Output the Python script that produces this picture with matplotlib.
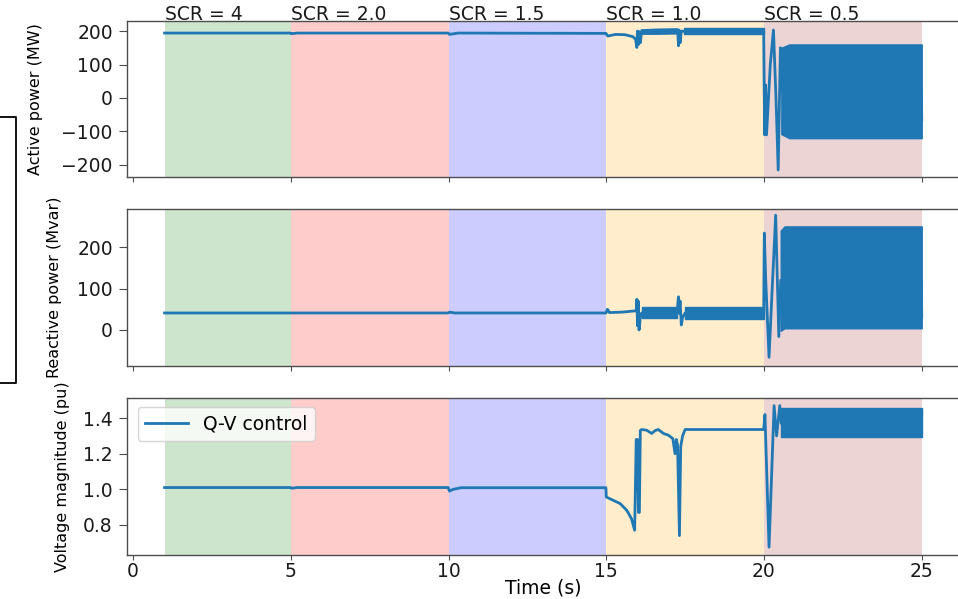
import matplotlib
matplotlib.use("Agg")
import matplotlib.pyplot as plt
import matplotlib.transforms as mtransforms
from matplotlib.lines import Line2D

# ---- short-circuit-ratio stages ----
scr_labels = ["SCR = 4", "SCR = 2.0", "SCR = 1.5", "SCR = 1.0", "SCR = 0.5"]
scr_start = [1, 5, 10, 15, 20]
scr_end = [5, 10, 15, 20, 25]
scr_colors = ["green", "red", "blue", "orange", "brown"]

time_ticks = [0, 5, 10, 15, 20, 25]
p_ticks = [-200, -100, 0, 100, 200]
q_ticks = [0, 100, 200]
v_ticks = [0.8, 1.0, 1.2, 1.4]

# ---- active power (MW) ----
p_time = [1.0, 4.99, 5.02, 5.2, 9.99, 10.03, 10.3, 14.99, 15.05, 15.3, 15.6,
          15.85, 15.93, 15.97, 15.99, 16.02, 16.05, 16.08, 16.12, 17.25, 17.27,
          17.29, 17.31, 17.34, 17.38, 17.45, 19.99, 20.02, 20.05, 20.08, 20.2,
          20.3, 20.38, 20.45, 20.52, 20.58, 24.99, 25.0]
p_mw = [194, 194, 192, 194, 194, 190, 194, 193, 185, 190, 189,
        183, 175, 151, 200, 160, 198, 165, 199, 200, 190,
        156, 203, 165, 200, 199, 199, -110, 39, -110, 100,
        203, 0, -215, 150, 20, 20, -66]
# oscillation envelopes
p_band1_t = [16.1, 16.6, 17.25]
p_band1_hi = [205, 207, 208]
p_band1_lo = [192, 192, 193]
p_band2_t = [17.45, 19.99]
p_band2_hi = [208, 208]
p_band2_lo = [190, 190]
p_band3_t = [20.55, 20.8, 25.0]
p_band3_hi = [150, 160, 160]
p_band3_lo = [-108, -120, -120]

# ---- reactive power (Mvar) ----
q_time = [1.0, 9.99, 10.03, 10.2, 14.99, 15.04, 15.1, 15.5, 15.9, 15.95,
          15.97, 15.99, 16.01, 16.04, 16.08, 16.12, 17.25, 17.27, 17.29, 17.31,
          17.34, 17.38, 17.42, 17.5, 19.99, 20.01, 20.05, 20.16, 20.26, 20.37,
          20.47, 20.53, 24.99, 25.0]
q_mvar = [41, 41, 43, 41, 41, 50, 42, 43, 46, 46,
          74, 10, 70, 0, 30, 41, 41, 65, 80, 40,
          70, 12, 30, 41, 41, 234, 130, -66, 100, 277,
          -16, 120, 120, 32]
q_band1_t = [16.12, 17.25]
q_band1_hi = [55, 55]
q_band1_lo = [28, 28]
q_band2_t = [17.5, 19.99]
q_band2_hi = [55, 55]
q_band2_lo = [27, 27]
q_band3_t = [20.53, 20.65, 25.0]
q_band3_hi = [240, 250, 250]
q_band3_lo = [-2, 4, 4]

# ---- voltage magnitude (pu) ----
v_time = [1.0, 4.99, 5.02, 5.2, 9.99, 10.03, 10.15, 10.4, 14.99, 15.0,
          15.14, 15.44, 15.65, 15.8, 15.9, 15.95, 15.99, 16.02, 16.05, 16.08,
          16.12, 16.28, 16.44, 16.55, 16.65, 16.81, 16.97, 17.11, 17.18, 17.22,
          17.26, 17.32, 17.36, 17.42, 17.5, 19.99, 20.03, 20.16, 20.32, 20.4,
          20.5, 20.55, 24.99, 25.0]
v_pu = [1.01, 1.01, 1.006, 1.01, 1.01, 0.99, 1.0, 1.009, 1.009, 0.957,
        0.945, 0.92, 0.882, 0.835, 0.77, 1.28, 1.28, 0.87, 0.87, 1.33,
        1.336, 1.332, 1.314, 1.33, 1.336, 1.314, 1.304, 1.285, 1.2, 1.28,
        1.25, 0.74, 1.24, 1.30, 1.336, 1.336, 1.42, 0.675, 1.47, 1.30,
        1.47, 1.37, 1.37, 1.43]
v_band3_t = [20.55, 25.0]
v_band3_hi = [1.455, 1.455]
v_band3_lo = [1.295, 1.295]

LINE = "#1f77b4"
plt.rcParams["font.family"] = ["DejaVu Sans"]
plt.rcParams["font.size"] = 13.5

fig = plt.figure(figsize=(9.58, 5.99), dpi=100)
W, H = 958.0, 599.0
left_px, right_px = 126.7, 959.6


def make_axes(top_px, bottom_px):
    return fig.add_axes([left_px / W, 1 - bottom_px / H,
                         (right_px - left_px) / W, (bottom_px - top_px) / H])


ax1 = make_axes(21, 177)
ax2 = make_axes(209, 366)
ax3 = make_axes(398, 555)

for ax in (ax1, ax2, ax3):
    for s, e, c in zip(scr_start, scr_end, scr_colors):
        ax.axvspan(s, e, color=c, alpha=0.2, lw=0)
    ax.set_xlim(-0.2, 26.2)
    ax.set_xticks(time_ticks)
    for sp in ax.spines.values():
        sp.set_color("#4d4d4d")
        sp.set_linewidth(1.0)
    ax.tick_params(axis="y", length=6, pad=4, colors="#4d4d4d", labelcolor="#1a1a1a")
    ax.tick_params(axis="x", length=3.5, pad=1.5, colors="#4d4d4d", labelcolor="#1a1a1a")

ax1.tick_params(axis="x", labelbottom=False)
ax2.tick_params(axis="x", labelbottom=False)


def draw_band(ax, t, hi, lo):
    ax.fill_between(t, lo, hi, color=LINE, lw=1.0, edgecolor=LINE)


LW = 2.0

# active power
ax1.plot(p_time, p_mw, color=LINE, lw=LW)
draw_band(ax1, p_band1_t, p_band1_hi, p_band1_lo)
draw_band(ax1, p_band2_t, p_band2_hi, p_band2_lo)
draw_band(ax1, p_band3_t, p_band3_hi, p_band3_lo)
ax1.set_ylim(-236, 230)
ax1.set_yticks(p_ticks)
ax1.set_ylabel("Active power (MW)", fontsize=11.5)
ax1.yaxis.set_label_coords(-0.1008, 0.5)

# SCR stage titles sitting on the top spine
trans = mtransforms.blended_transform_factory(ax1.transData, ax1.transAxes)
for s, lab in zip(scr_start, scr_labels):
    ax1.text(s, 1.005, lab, transform=trans, ha="left", va="baseline",
             color="#1a1a1a", fontsize=13.5)

# reactive power
ax2.plot(q_time, q_mvar, color=LINE, lw=LW)
draw_band(ax2, q_band1_t, q_band1_hi, q_band1_lo)
draw_band(ax2, q_band2_t, q_band2_hi, q_band2_lo)
draw_band(ax2, q_band3_t, q_band3_hi, q_band3_lo)
ax2.set_ylim(-87, 292)
ax2.set_yticks(q_ticks)
ax2.set_ylabel("Reactive power (Mvar)", fontsize=11.5)
ax2.yaxis.set_label_coords(-0.078, 0.5)

# voltage magnitude
ax3.plot(v_time, v_pu, color=LINE, lw=LW, label="Q-V control")
draw_band(ax3, v_band3_t, v_band3_hi, v_band3_lo)
ax3.set_ylim(0.631, 1.513)
ax3.set_yticks(v_ticks)
ax3.set_ylabel("Voltage magnitude (pu)", fontsize=11.5)
ax3.yaxis.set_label_coords(-0.0684, 0.5)
ax3.set_xlabel("Time (s)", va="top")
ax3.xaxis.set_label_coords(0.5, -0.148)
ax3.legend(loc="upper left", bbox_to_anchor=(0.0132, 1 - 9 / 157.0),
           borderaxespad=0, fontsize=13.5, handlelength=2.3)

# bracket on the left margin
fig.add_artist(Line2D([0 / W, 16 / W, 16 / W, 0 / W],
                      [1 - 117 / H, 1 - 117 / H, 1 - 383 / H, 1 - 383 / H],
                      transform=fig.transFigure, color="black", lw=1.3))

fig.savefig("out.png", dpi=100)
